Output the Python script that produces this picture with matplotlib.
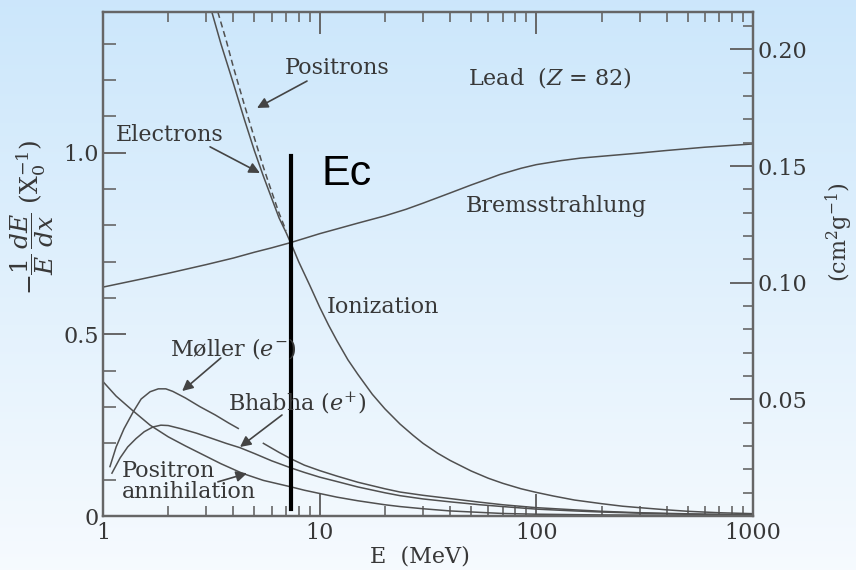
import numpy as np
import matplotlib
matplotlib.use('Agg')
import matplotlib.pyplot as plt
from matplotlib import font_manager
from matplotlib.ticker import FixedLocator, MultipleLocator, FixedFormatter, NullFormatter

plt.rcParams['font.family'] = ['DejaVu Serif']
plt.rcParams['mathtext.fontset'] = 'dejavuserif'

# ---------------- data ----------------
ion_E = [3.18, 3.5, 4, 4.5, 5, 5.5, 6, 6.5, 7, 7.5, 8, 9, 10, 11, 12, 13.5, 15, 17.5, 20, 23.5, 27, 30,
         35, 40, 50, 60, 70, 85, 100, 120, 150, 200, 250, 300, 400, 500, 700, 1000]
ion_v = [1.387, 1.30, 1.19, 1.09, 1.005, 0.935, 0.875, 0.82, 0.78, 0.74, 0.70, 0.635, 0.575, 0.525, 0.483,
         0.43, 0.39, 0.335, 0.295, 0.253, 0.222, 0.20, 0.173, 0.153, 0.124, 0.104, 0.09, 0.075, 0.065,
         0.055, 0.044, 0.034, 0.027, 0.023, 0.017, 0.013, 0.009, 0.0065]

pos_E = [3.39, 3.7, 4, 4.5, 5, 5.5, 6, 6.5, 7]
pos_v = [1.387, 1.31, 1.235, 1.13, 1.04, 0.96, 0.893, 0.833, 0.785]

brem_E = [1, 1.5, 2, 3, 4, 5, 6, 7.3, 8.5, 10, 12, 15, 20, 25, 30, 40, 50, 60, 68, 85, 100, 130, 160,
          200, 300, 400, 600, 1000]
brem_v = [0.63, 0.652, 0.668, 0.692, 0.71, 0.726, 0.738, 0.752, 0.764, 0.777, 0.79, 0.806, 0.826, 0.844,
          0.861, 0.889, 0.911, 0.928, 0.94, 0.957, 0.967, 0.978, 0.985, 0.99, 0.999, 1.006, 1.015, 1.024]

moller_E = [1.077, 1.15, 1.25, 1.38, 1.5, 1.65, 1.8, 1.95, 2.1, 2.4, 2.8, 3.3, 3.8, 4.21, 4.8, 5.5, 6.5,
            7.4, 8.5, 10, 12, 15, 20, 23.5, 30, 40, 55, 70, 100, 150, 200, 300, 500, 1000]
moller_v = [0.136, 0.19, 0.24, 0.287, 0.322, 0.342, 0.35, 0.35, 0.343, 0.325, 0.301, 0.278, 0.256, 0.241,
            np.nan, 0.20, 0.175, 0.157, 0.14, 0.125, 0.11, 0.093, 0.075, 0.066, 0.057, 0.048, 0.038,
            0.031, 0.023, 0.017, 0.013, 0.009, 0.006, 0.003]

bhabha_E = [1.1, 1.2, 1.3, 1.42, 1.55, 1.7, 1.85, 2.0, 2.3, 2.7, 3.2, 3.7, 4.29, 5, 6, 7.4, 8.5, 10, 12,
            15, 20, 23.5, 30, 40, 55, 70, 100, 150, 200, 300, 500, 1000]
bhabha_v = [0.118, 0.16, 0.19, 0.213, 0.232, 0.245, 0.25, 0.249, 0.24, 0.228, 0.213, 0.2, 0.188, 0.172,
            0.152, 0.132, 0.12, 0.107, 0.095, 0.08, 0.064, 0.056, 0.047, 0.039, 0.031, 0.026, 0.019,
            0.014, 0.011, 0.008, 0.005, 0.003]

annih_E = [1, 1.15, 1.36, 1.65, 2.0, 2.4, 2.8, 3.5, 4.42, 5.5, 7.4, 8.5, 10, 12, 15, 20, 23.5, 30, 40,
           55, 70, 100, 200, 1000]
annih_v = [0.37, 0.33, 0.292, 0.25, 0.218, 0.193, 0.173, 0.144, 0.117, 0.098, 0.08, 0.071, 0.062, 0.052,
           0.042, 0.031, 0.026, 0.02, 0.014, 0.01, 0.007, 0.005, 0.003, 0.001]

E_crit = 7.37
ec_range = [0.02, 0.99]

left_ticks = [0, 0.5, 1.0]
left_labels = ['0', '0.5', '1.0']
right_ticks = [0.05, 0.10, 0.15, 0.20]
right_labels = ['0.05', '0.10', '0.15', '0.20']
x_ticks = [1, 10, 100, 1000]
x_labels = ['1', '10', '100', '1000']

# narrow sans for the "Ec" mark
ec_family = 'Liberation Sans'
try:
    font_manager.findfont('Liberation Sans Narrow', fallback_to_default=False)
    ec_family = 'Liberation Sans Narrow'
except Exception:
    pass

# ---------------- figure ----------------
fig = plt.figure(figsize=(8.56, 5.70), dpi=100)

bg = fig.add_axes([0, 0, 1, 1], zorder=-10)
g = np.linspace(0, 1, 256)[:, None, None]
top_c = np.array([0.80, 0.905, 0.985])
bot_c = np.array([0.965, 0.982, 0.997])
img = top_c + (bot_c - top_c) * g
bg.imshow(img, aspect='auto', extent=[0, 1, 0, 1])
bg.axis('off')

ax = fig.add_axes([0.1203, 0.0947, 0.7594, 0.8842])
ax.set_facecolor('none')
ax.set_xscale('log')
ax.set_xlim(1, 1000)
ax.set_ylim(0, 1.387)

lc = '#505050'
lw = 1.1
ax.plot(ion_E, ion_v, color=lc, lw=lw)
ax.plot(pos_E, pos_v, color=lc, lw=lw, ls=(0, (4, 2.5)))
ax.plot(brem_E, brem_v, color=lc, lw=lw)
ax.plot(moller_E, moller_v, color=lc, lw=lw)
ax.plot(bhabha_E, bhabha_v, color=lc, lw=lw)
ax.plot(annih_E, annih_v, color=lc, lw=lw)

ax.plot([E_crit, E_crit], ec_range, color='black', lw=3.0)

tc = '#383838'
fs = 16
ax.text(12.0, 1.233, 'Positrons', fontsize=fs, color=tc, ha='center', va='center')
ax.text(2.04, 1.049, 'Electrons', fontsize=fs, color=tc, ha='center', va='center')
ax.text(115.6, 1.206, r'Lead  ($Z$ = 82)', fontsize=fs, color=tc, ha='center', va='center')
ax.text(123, 0.853, 'Bremsstrahlung', fontsize=fs, color=tc, ha='center', va='center')
ax.text(19.6, 0.575, 'Ionization', fontsize=fs, color=tc, ha='center', va='center')
ax.text(3.98, 0.46, r'Møller ($e^{-}$)', fontsize=fs, color=tc, ha='center', va='center')
ax.text(7.86, 0.308, r'Bhabha ($e^{+}$)', fontsize=fs, color=tc, ha='center', va='center')
ax.text(1.224, 0.096, 'Positron\nannihilation', fontsize=fs, color=tc, ha='left', va='center',
        linespacing=0.95)

ax.text(10.24, 0.911, 'Ec', fontsize=31, color='black', ha='left', va='baseline',
        family=[ec_family, 'DejaVu Sans'])

ap = dict(arrowstyle='-|>', color='#444444', lw=1.2, mutation_scale=16, shrinkA=0, shrinkB=0)
ax.annotate('', xy=(5.14, 1.123), xytext=(8.74, 1.197), arrowprops=ap)
ax.annotate('', xy=(5.3, 0.944), xytext=(3.12, 1.016), arrowprops=ap)
ax.annotate('', xy=(2.32, 0.344), xytext=(3.5, 0.435), arrowprops=ap)
ax.annotate('', xy=(4.29, 0.19), xytext=(6.70, 0.278), arrowprops=ap)
ax.annotate('', xy=(4.62, 0.1175), xytext=(3.39, 0.094), arrowprops=ap)

# axes styling
spc = '#666666'
for s in ax.spines.values():
    s.set_color(spc)
    s.set_linewidth(1.6)

ax.xaxis.set_major_locator(FixedLocator(x_ticks))
ax.xaxis.set_major_formatter(FixedFormatter(x_labels))
ax.xaxis.set_minor_locator(FixedLocator([m * d for d in (1, 10, 100) for m in range(2, 10)]))
ax.xaxis.set_minor_formatter(NullFormatter())
ax.yaxis.set_major_locator(FixedLocator(left_ticks))
ax.yaxis.set_major_formatter(FixedFormatter(left_labels))
ax.yaxis.set_minor_locator(MultipleLocator(0.1))

ax.tick_params(axis='x', which='major', direction='in', length=16, width=1.4, color=spc,
               top=True, labelsize=16, labelcolor=tc, pad=4)
ax.tick_params(axis='x', which='minor', direction='in', length=7, width=1.2, color=spc, top=True)
ax.tick_params(axis='y', which='major', direction='in', length=16.5, width=1.4, color=spc,
               right=False, labelsize=16, labelcolor=tc, pad=3)
ax.tick_params(axis='y', which='minor', direction='in', length=9.5, width=1.2, color=spc, right=False)

ax2 = ax.twinx()
ax2.set_facecolor('none')
ax2.set_ylim(0, 0.216)
ax2.yaxis.set_major_locator(FixedLocator(right_ticks))
ax2.yaxis.set_major_formatter(FixedFormatter(right_labels))
ax2.yaxis.set_minor_locator(MultipleLocator(0.01))
ax2.tick_params(axis='y', which='major', direction='in', length=16.5, width=1.4, color=spc,
                labelsize=16, labelcolor=tc, pad=3)
ax2.tick_params(axis='y', which='minor', direction='in', length=7, width=1.2, color=spc)
for s in ax2.spines.values():
    s.set_color(spc)
    s.set_linewidth(1.6)

ax.set_ylabel(r'$-\dfrac{1}{E}\,\dfrac{dE}{dx}\ (\mathrm{X}_0^{-1})$', fontsize=18, color=tc)
ax.yaxis.set_label_coords(-0.072, 0.593)
ax2.set_ylabel(r'$(\mathrm{cm}^2\mathrm{g}^{-1})$', fontsize=16, color=tc, rotation=90)
ax2.yaxis.set_label_coords(1.108, 0.563)
ax.set_xlabel(r'E  (MeV)', fontsize=16, color=tc)
ax.xaxis.set_label_coords(0.488, -0.058)

fig.savefig('out.png', dpi=100)
